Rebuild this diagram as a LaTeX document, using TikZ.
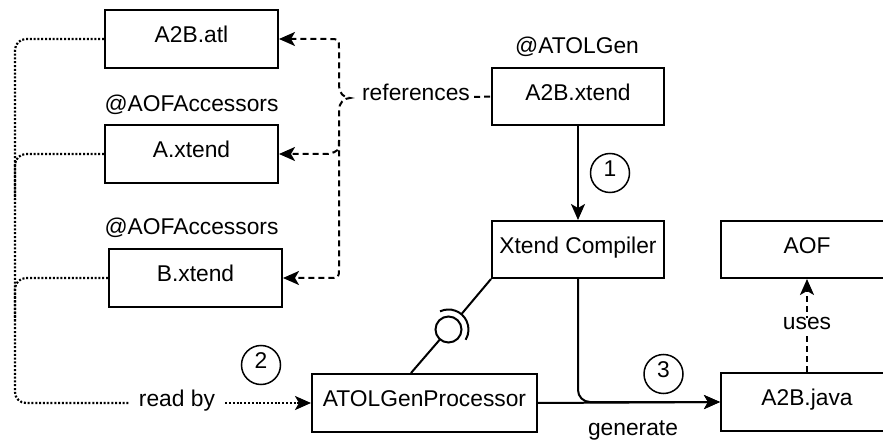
\documentclass[tikz,border=0pt]{standalone}
\usepackage{fontspec}
\setmainfont{Liberation Sans}
\usetikzlibrary{arrows.meta,calc}
\begin{document}
\begin{tikzpicture}[x=1pt,y=-1pt,
  every node/.style={font=\fontsize{22.8}{27}\selectfont, text height=0.72em, text depth=0pt},
  box/.style={draw, line width=2pt, minimum width=172pt, minimum height=58pt, inner sep=0pt},
  num/.style={draw, circle, line width=1.5pt, minimum size=39pt, inner sep=0pt},
  lab/.style={inner sep=0pt},
  tipstyle/.style={-{Stealth[length=16pt,width=14pt,inset=4pt]}},
  solidline/.style={line width=2pt},
  dashline/.style={line width=2pt, dash pattern=on 6pt off 4pt},
  dotline/.style={line width=2.2pt, dash pattern=on 2pt off 1.8pt}
]
\useasboundingbox (0,0) rectangle (883,443);
\clip (0,0) rectangle (883,443);

% boxes
\node[box, minimum width=173pt] (atl) at (191.5,39) {A2B.atl};
\node[box, minimum width=173pt] (axt) at (191.5,154) {A.xtend};
\node[box, minimum width=173pt] (bxt) at (195.5,278) {B.xtend};
\node[box, minimum height=57pt] (a2bx) at (578,96.5) {A2B.xtend};
\node[box, minimum height=57pt] (xc) at (578,249.5) {Xtend Compiler};
\node[box, minimum height=57pt] (aof) at (807,249.5) {AOF};
\node[box] (jav) at (807,402) {A2B.java};
\node[box, minimum width=225pt] (atp) at (424.5,403) {ATOLGenProcessor};

% stereotypes
\node[lab] (sa) at (191.5,107.5) {@AOFAccessors};
\node[lab] (sb) at (191.5,231) {@AOFAccessors};
\node[lab] (sg) at (577,50) {@ATOLGen};

% numbers
\node[num] (n1) at (610,173) {1};
\node[num] (n2) at (261,365) {2};
\node[num] (n3) at (663.5,374) {3};

% references brace
\node[lab, inner xsep=4pt] (refs) at (416,97) {references};
\coordinate (tip) at (350,98);
\draw[dashline] (refs.east) -- (a2bx.west);
\draw[dashline, {Stealth[length=16pt,width=14pt,inset=4pt]}-{Stealth[length=16pt,width=14pt,inset=4pt]}]
  (atl.east) -- (329,39) .. controls (339,39) .. (339,49) -- (339,86)
  .. controls (339,93) and (344,98) .. (tip)
  .. controls (344,98) and (339,103) .. (339,110) -- (339,268)
  .. controls (339,278) .. (329,278) -- (bxt.east);
\draw[dashline, tipstyle] (339,140) .. controls (339,151) .. (328,154) -- (axt.east);

% read by
\node[lab, inner xsep=10pt] (readby) at (177,403) {read by};
\coordinate (lx) at (15,403);
\draw[dotline, rounded corners=11pt] (atl.west) -| (lx) -- (readby.west);
\draw[dotline, rounded corners=11pt] (axt.west) -| (15,200);
\draw[dotline, rounded corners=11pt] (bxt.west) -| (15,320);
\draw[dotline, tipstyle] (readby.east) -- (atp.west);

% compile / generate
\draw[solidline, tipstyle] (a2bx.south) -- (xc.north);
\draw[solidline, tipstyle] (atp.east) -- (jav.west);
\draw[solidline, tipstyle, rounded corners=12pt] (xc.south) |- (jav.west);
\node[lab] (gen) at (633,432) {generate};

% uses
\draw[dashline, tipstyle] (jav.north) -- node[fill=white, inner sep=4pt] {uses} (aof.south);

% lollipop
\coordinate (ball) at (448.5,329.5);
\coordinate (lolend) at ($(atp.north west)+(100,0)$);
\draw[solidline] (xc.south west) -- ($(ball)!20pt!(xc.south west)$);
\draw[solidline] (ball) circle[radius=13];
\draw[solidline] ($(ball)!13pt!(lolend)$) -- (lolend);
\draw[solidline] ($(ball)+(-115:20)$) arc[start angle=-115, end angle=31, radius=20];
\end{tikzpicture}
\end{document}
